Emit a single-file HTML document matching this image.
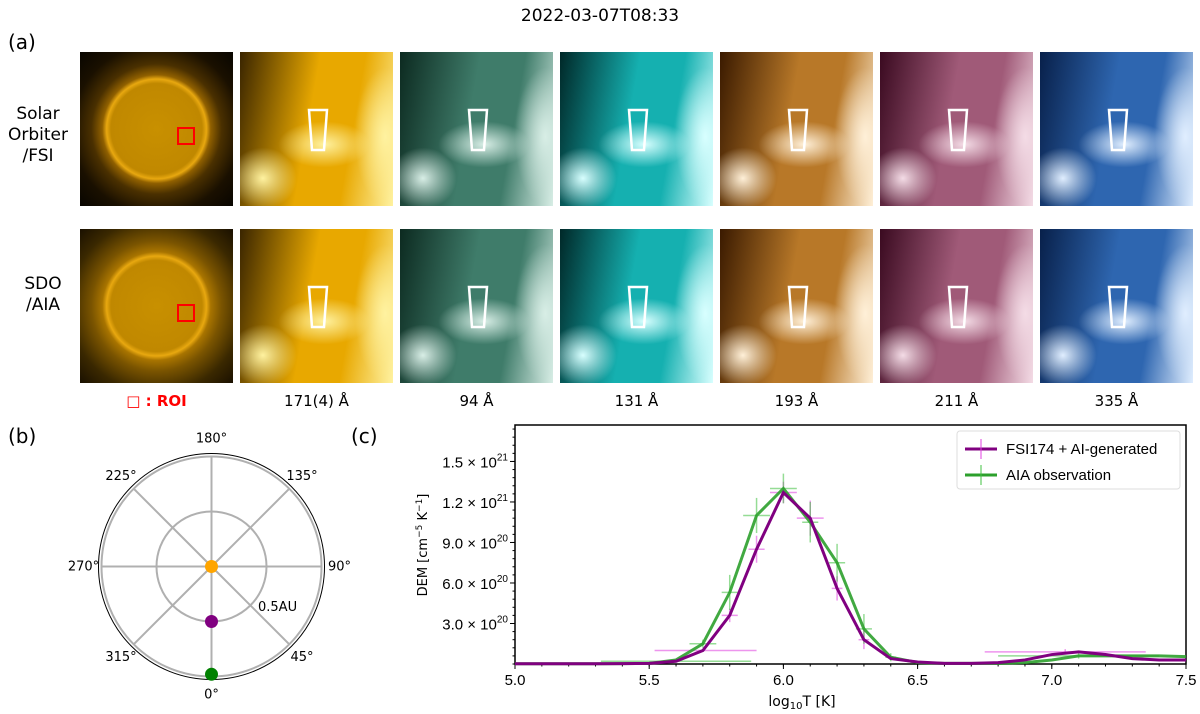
<!DOCTYPE html>
<html><head><meta charset="utf-8">
<style>
body{margin:0;width:1200px;height:714px;background:#fff;font-family:"Liberation Sans","DejaVu Sans",sans-serif;overflow:hidden;position:relative}
.t{position:absolute;font-family:"DejaVu Sans","Liberation Sans",sans-serif;color:#000}
.img{position:absolute;width:153px;height:154px;overflow:hidden}
</style></head><body>
<div class="t" style="left:0;width:1200px;text-align:center;top:6px;font-size:17px">2022-03-07T08:33</div>
<div class="t" style="left:8px;top:30px;font-size:20px">(a)</div>
<div class="t" style="left:0;width:76px;text-align:center;top:104px;font-size:17px;line-height:21px">Solar<br>Orbiter<br>/FSI</div>
<div class="t" style="left:0;width:86px;text-align:center;top:274px;font-size:17px;line-height:21px">SDO<br>/AIA</div>
<div id="imgs"></div>
<div class="t" style="left:80px;width:153px;text-align:center;top:392px;font-size:15px;color:#f00;font-weight:bold">□ : ROI</div>
<div id="caps"></div>
<div class="t" style="left:8px;top:424px;font-size:20px">(b)</div>
<div class="t" style="left:351px;top:424px;font-size:20px">(c)</div>

<svg id="polar" width="400" height="300" style="position:absolute;left:0;top:414px" font-family="DejaVu Sans, Liberation Sans, sans-serif"></svg>
<svg id="dem" width="820" height="300" style="position:absolute;left:380px;top:414px" font-family="DejaVu Sans, Liberation Sans, sans-serif"></svg>

<script>
const waves=["171(4) Å","94 Å","131 Å","193 Å","211 Å","335 Å"];
const tones=[["#3a2500","#e8a800","#fff2a0"],["#0c2a20","#3f7c6a","#d8eee6"],["#002828","#15b0b0","#d8ffff"],["#3a1a00","#b87828","#fff0d8"],["#3a0a20","#a05a78","#f4dce6"],["#08204a","#2e66b0","#e0eeff"]];
const imgs=document.getElementById('imgs');
for(let r=0;r<2;r++){
  const top=r?229:52;
  const sun=document.createElement('div');sun.className='img';
  
  
  sun.style.left='80px';sun.style.top=top+'px';
  sun.style.background=r?'radial-gradient(circle at 50% 50%,#c89000 0,#c08800 42%,#e8a810 46%,#a87400 50%,#7a5400 60%,#3a2800 80%,#1a1000 100%)':'radial-gradient(circle at 50% 50%,#c89000 0,#c08800 42%,#e8a810 46%,#906000 50%,#4a3000 60%,#1a1000 78%,#080500 100%)';
  sun.innerHTML='<div style="position:absolute;left:97px;top:75px;width:14px;height:14px;border:2px solid #f00"></div>';
  imgs.appendChild(sun);
  for(let c=0;c<6;c++){
    const d=document.createElement('div');d.className='img';
    
    
    const t=tones[c];
    d.style.left=(240+c*160)+'px';d.style.top=top+'px';
    d.style.background='radial-gradient(ellipse 22% 20% at 15% 82%,'+t[2]+',transparent),radial-gradient(ellipse 30% 15% at 55% 60%,'+t[2]+',transparent),radial-gradient(ellipse 20% 45% at 95% 55%,'+t[2]+',transparent),linear-gradient(100deg,'+t[0]+' 0%,'+t[1]+' 45%,'+t[1]+' 70%,'+t[2]+' 100%)';
    d.innerHTML='<svg width="153" height="154" style="position:absolute;left:0;top:0"><polygon points="69,58 87,58 84,98 72,98" fill="none" stroke="#fff" stroke-width="2.5"/></svg>';
    imgs.appendChild(d);
  }
}
const caps=document.getElementById('caps');
waves.forEach((w,c)=>{const e=document.createElement('div');e.className='t';
 
 
 e.style.cssText='left:'+(240+c*160)+'px;width:153px;text-align:center;top:392px;font-size:15px';e.textContent=w;caps.appendChild(e);});

// polar
const pv=document.getElementById('polar');
const cx=211.5,cy=152.5,R=110;
let s='<circle cx="'+cx+'" cy="'+cy+'" r="113" fill="none" stroke="#000" stroke-width="1"/>';
s+='<circle cx="'+cx+'" cy="'+cy+'" r="'+R+'" fill="none" stroke="#b0b0b0" stroke-width="2"/>';
s+='<circle cx="'+cx+'" cy="'+cy+'" r="'+R/2+'" fill="none" stroke="#b0b0b0" stroke-width="2"/>';
const angLabels=["0°","45°","90°","135°","180°","225°","270°","315°"];
angLabels.forEach((l,i)=>{const a=i*Math.PI/4;const dx=Math.sin(a),dy=Math.cos(a);
 s+='<line x1="'+cx+'" y1="'+cy+'" x2="'+(cx+dx*R)+'" y2="'+(cy+dy*R)+'" stroke="#b0b0b0" stroke-width="2"/>';
 s+='<text x="'+(cx+dx*128)+'" y="'+(cy+dy*128+4)+'" font-size="13" text-anchor="middle">'+l+'</text>';});
s+='<text x="258" y="197" font-size="13">0.5AU</text>';
const objR=[0,0.5,0.98],objC=["orange","purple","green"];
objR.forEach((r,i)=>{s+='<circle cx="'+cx+'" cy="'+(cy+r*R)+'" r="6.5" fill="'+objC[i]+'"/>';});
pv.innerHTML=s;

// DEM chart
const logT=[5.0,5.1,5.2,5.3,5.4,5.5,5.6,5.7,5.8,5.9,6.0,6.1,6.2,6.3,6.4,6.5,6.6,6.7,6.8,6.9,7.0,7.1,7.2,7.3,7.4,7.5];
const demFSI=[0.02,0.02,0.02,0.02,0.03,0.05,0.2,1.0,3.6,8.5,12.7,10.8,5.6,1.8,0.4,0.15,0.05,0.05,0.1,0.3,0.7,0.9,0.7,0.4,0.3,0.3];
const demAIA=[0.02,0.02,0.02,0.02,0.03,0.05,0.3,1.5,5.3,11.0,13.0,10.5,7.5,2.6,0.5,0.1,0.05,0.05,0.05,0.1,0.3,0.6,0.6,0.6,0.6,0.55];
const errFSI=[[5.71,1.0,0.19,0],[5.8,3.6,0.03,0.5],[5.9,8.5,0.03,1.0],[6.0,12.7,0.05,0.8],[6.1,10.8,0.05,1.3],[6.2,5.6,0.02,0.9],[6.3,1.8,0.02,0.7],[7.05,0.9,0.3,0.2]];
const errAIA=[[5.6,0.2,0.28,0],[5.7,1.5,0.05,0.3],[5.8,5.3,0.03,1.3],[5.9,11.0,0.05,1.3],[6.0,13.0,0.05,1.1],[6.1,10.5,0.03,1.5],[6.2,7.5,0.03,1.4],[6.3,2.6,0.03,1.1],[6.4,0.5,0.02,0.3],[7.1,0.6,0.3,0.2]];
const yTicks=[3,6,9,12,15];
const yExp=["20","20","20","21","21"];
const yMant=["3.0","6.0","9.0","1.2","1.5"];
const xTicks=[5.0,5.5,6.0,6.5,7.0,7.5];
const L=135,Rt=806,T=11,B=250,ymax=17.7;
const X=v=>L+(v-5)/2.5*(Rt-L), Y=v=>B-v/ymax*(B-T);
const dem=document.getElementById('dem');
let g='';
g+='<rect x="'+L+'" y="'+T+'" width="'+(Rt-L)+'" height="'+(B-T)+'" fill="none" stroke="#000" stroke-width="1.5"/>';
xTicks.forEach(v=>{g+='<line x1="'+X(v)+'" y1="'+B+'" x2="'+X(v)+'" y2="'+(B+5)+'" stroke="#000"/><text x="'+X(v)+'" y="'+(B+21)+'" font-size="15" text-anchor="middle" font-family="Liberation Sans, sans-serif">'+v.toFixed(1)+'</text>';});
for(let v=5.0;v<=7.5001;v+=0.1){g+='<line x1="'+X(v)+'" y1="'+B+'" x2="'+X(v)+'" y2="'+(B+2.5)+'" stroke="#000"/>';}
for(let v=0;v<=ymax;v+=0.6){g+='<line x1="'+L+'" y1="'+Y(v)+'" x2="'+(L-2.5)+'" y2="'+Y(v)+'" stroke="#000"/>';}
yTicks.forEach((v,i)=>{g+='<line x1="'+L+'" y1="'+Y(v)+'" x2="'+(L-5)+'" y2="'+Y(v)+'" stroke="#000"/><text x="'+(L-7)+'" y="'+(Y(v)+6)+'" font-size="15" text-anchor="end" font-family="Liberation Sans, sans-serif">'+yMant[i]+' × 10<tspan dy="-7" font-size="10">'+yExp[i]+'</tspan></text>';});
g+='<text x="422" y="'+(B+42)+'" font-size="14" text-anchor="middle">log<tspan font-size="10" dy="3">10</tspan><tspan dy="-3">T [K]</tspan></text>';
g+='<text transform="translate(47,131) rotate(-90)" font-size="13" text-anchor="middle">DEM [cm<tspan dy="-5" font-size="9">−5</tspan><tspan dy="5"> K</tspan><tspan dy="-5" font-size="9">−1</tspan><tspan dy="5">]</tspan></text>';
function errs(arr,col){let o='';arr.forEach(e=>{o+='<line x1="'+X(e[0]-e[2])+'" y1="'+Y(e[1])+'" x2="'+X(e[0]+e[2])+'" y2="'+Y(e[1])+'" stroke="'+col+'" stroke-width="1.5" opacity="0.55"/>';o+='<line x1="'+X(e[0])+'" y1="'+Y(e[1]-e[3])+'" x2="'+X(e[0])+'" y2="'+Y(e[1]+e[3])+'" stroke="'+col+'" stroke-width="1.5" opacity="0.55"/>';});return o;}
g+=errs(errFSI,'#e040e0');
g+=errs(errAIA,'#40c040');
const pts=a=>a.map((v,i)=>X(logT[i])+','+Y(v)).join(' ');
g+='<polyline points="'+pts(demAIA)+'" fill="none" stroke="#2ca02c" stroke-width="3" opacity="0.9"/>';
g+='<polyline points="'+pts(demFSI)+'" fill="none" stroke="purple" stroke-width="3"/>';
g+='<rect x="'+(Rt-229)+'" y="'+(T+6)+'" width="223" height="58" rx="3" fill="#fff" fill-opacity="0.85" stroke="#ddd"/>';
g+='<line x1="'+(Rt-221)+'" y1="'+(T+24)+'" x2="'+(Rt-189)+'" y2="'+(T+24)+'" stroke="purple" stroke-width="3"/><line x1="'+(Rt-205)+'" y1="'+(T+14)+'" x2="'+(Rt-205)+'" y2="'+(T+34)+'" stroke="#e040e0"/>';
g+='<text x="'+(Rt-180)+'" y="'+(T+29)+'" font-size="15" font-family="Liberation Sans, sans-serif">FSI174 + AI-generated</text>';
g+='<line x1="'+(Rt-221)+'" y1="'+(T+50)+'" x2="'+(Rt-189)+'" y2="'+(T+50)+'" stroke="#2ca02c" stroke-width="3"/><line x1="'+(Rt-205)+'" y1="'+(T+40)+'" x2="'+(Rt-205)+'" y2="'+(T+60)+'" stroke="#40c040"/>';
g+='<text x="'+(Rt-180)+'" y="'+(T+55)+'" font-size="15" font-family="Liberation Sans, sans-serif">AIA observation</text>';
dem.innerHTML=g;
</script>
</body></html>
